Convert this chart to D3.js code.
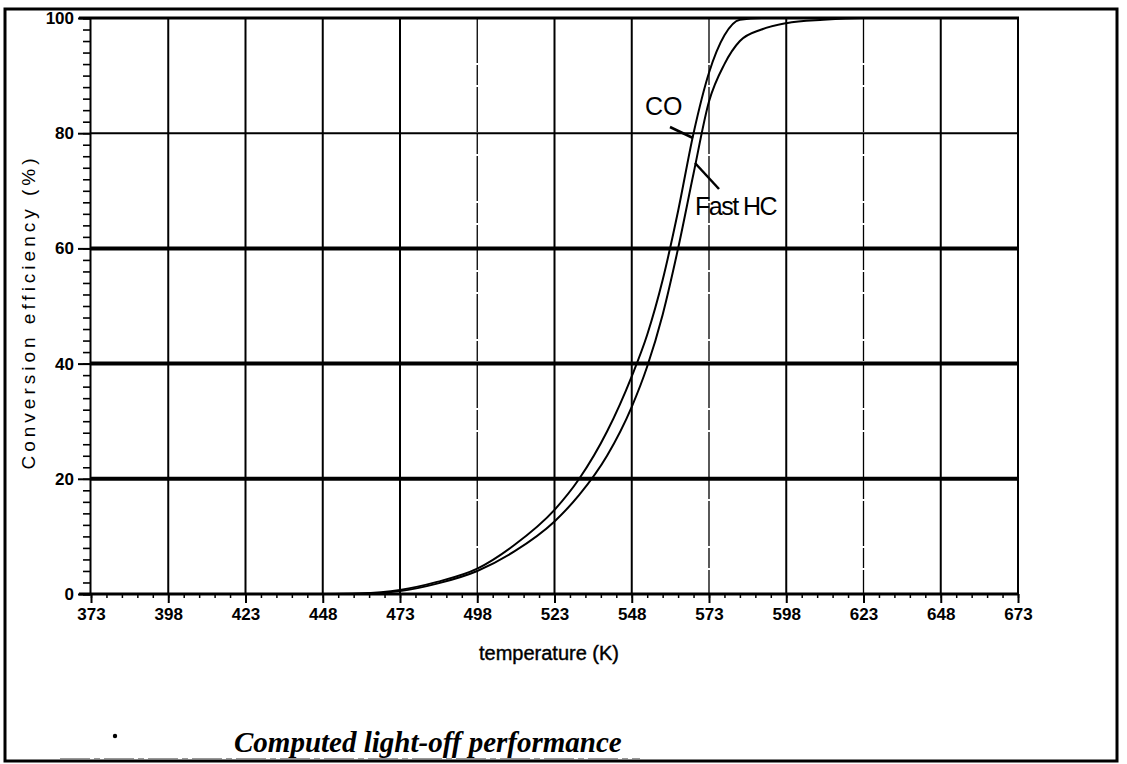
<!DOCTYPE html>
<html>
<head>
<meta charset="utf-8">
<script src="https://d3js.org/d3.v7.min.js"></script>
<style>
  body { margin: 0; background: #fff; }
  svg { display: block; }
</style>
</head>
<body>
<svg id="chart" width="1127" height="764"></svg>
<script>
// values
var temps = [448, 460, 473, 485, 498, 510, 523, 531, 540, 548, 553, 558, 563, 568, 573, 578, 583, 590, 598, 610, 623, 673];
var coVals = [0, 0.1, 0.7, 2.1, 4.4, 8.5, 14.6, 20.0, 28.2, 37.8, 45.0, 54.5, 66.5, 80.0, 90.5, 97.0, 99.7, 100, 100, 100, 100, 100];
var hcVals = [0, 0.05, 0.5, 1.8, 4.0, 7.4, 12.6, 17.2, 24.0, 32.5, 39.5, 48.5, 60.0, 73.0, 85.5, 92.0, 96.0, 98.0, 99.1, 99.7, 100, 100];

var xTicks = [373, 398, 423, 448, 473, 498, 523, 548, 573, 598, 623, 648, 673];
var yTicks = [0, 20, 40, 60, 80, 100];

var svg = d3.select('svg#chart');

// (window.top is read-only, so no plain "top" here)
var mLeft = 91,
    mRight = 1018,
    mTop = 18,
    mBottom = 594;

var x = d3.scaleLinear().domain([373, 673]).range([mLeft, mRight]);
var y = d3.scaleLinear().domain([0, 100]).range([mBottom, mTop]);

// outer frame of the scan
svg.append('rect')
    .attr('x', 5).attr('y', 9)
    .attr('width', 1112).attr('height', 752)
    .attr('fill', 'none')
    .attr('stroke', '#000')
    .attr('stroke-width', 3);

var g = svg.append('g');

// vertical grid, some look faint in the scan
var faint = [498, 573, 623];
g.selectAll('line.vgrid')
    .data(xTicks.slice(1))
    .enter().append('line')
    .attr('class', 'vgrid')
    .attr('x1', function(d) { return x(d); })
    .attr('x2', function(d) { return x(d); })
    .attr('y1', y(100))
    .attr('y2', y(0))
    .attr('stroke', '#000')
    .attr('stroke-width', function(d) { return faint.indexOf(d) >= 0 ? 1.3 : 2; })
    .attr('stroke-dasharray', function(d) { return faint.indexOf(d) >= 0 ? '45 2 20 2' : null; });

// horizontal grid, 20/40/60 are heavy
g.selectAll('line.hgrid')
    .data(yTicks.slice(1, 5))
    .enter().append('line')
    .attr('class', 'hgrid')
    .attr('x1', x(373))
    .attr('x2', x(673))
    .attr('y1', function(d) { return y(d); })
    .attr('y2', function(d) { return y(d); })
    .attr('stroke', '#000')
    .attr('stroke-width', function(d) { return d == 80 ? 2 : 4; });

// top border of plot
g.append('line')
    .attr('x1', mLeft - 12).attr('x2', mRight + 1)
    .attr('y1', y(100)).attr('y2', y(100))
    .attr('stroke', '#000').attr('stroke-width', 3);

// y axis with minor ticks every 2
var yAxis = d3.axisLeft(y)
    .tickValues(d3.range(0, 101, 2))
    .tickSize(7)
    .tickFormat('');
var ya = g.append('g')
    .attr('transform', 'translate(' + (mLeft - 1) + ',0)')
    .call(yAxis);
ya.select('.domain').attr('stroke-width', 2);
ya.selectAll('.tick line').attr('stroke-width', 1.6);

var yMaj = d3.axisLeft(y)
    .tickValues(yTicks)
    .tickSize(12)
    .tickPadding(4);
var ym = g.append('g')
    .attr('transform', 'translate(' + (mLeft - 1) + ',0)')
    .call(yMaj);
ym.select('.domain').remove();
ym.selectAll('.tick line').attr('stroke-width', 2);
ym.selectAll('text')
    .attr('font-family', 'Liberation Sans, Arial, sans-serif')
    .attr('font-weight', 'bold')
    .attr('font-size', 17)
    .attr('fill', '#000');

// x axis, minor ticks every 5 K
var xAxis = d3.axisBottom(x)
    .tickValues(d3.range(373, 674, 5))
    .tickSize(4)
    .tickSizeOuter(0)
    .tickFormat('');
var xa = g.append('g')
    .attr('transform', 'translate(0,' + mBottom + ')')
    .call(xAxis);
xa.select('.domain').remove();
xa.selectAll('.tick line').attr('stroke-width', 1.5);

var xMaj = d3.axisBottom(x)
    .tickValues(xTicks)
    .tickSize(9)
    .tickPadding(5)
    .tickFormat(d3.format('d'));
var xm = g.append('g')
    .attr('transform', 'translate(0,' + mBottom + ')')
    .call(xMaj);
xm.select('.domain').remove();
xm.selectAll('.tick line').attr('stroke-width', 2);
xm.selectAll('text')
    .attr('font-family', 'Liberation Sans, Arial, sans-serif')
    .attr('font-weight', 'bold')
    .attr('font-size', 17)
    .attr('fill', '#000');

// heavy zero line
g.append('line')
    .attr('x1', mLeft - 12).attr('x2', mRight)
    .attr('y1', y(0)).attr('y2', y(0))
    .attr('stroke', '#000').attr('stroke-width', 3);

// curves
var line = d3.line()
    .x(function(d) { return x(d[0]); })
    .y(function(d) { return y(d[1]); })
    .curve(d3.curveMonotoneX);

var series = [
    temps.map(function(t, i) { return [t, coVals[i]]; }),
    temps.map(function(t, i) { return [t, hcVals[i]]; })
];

g.selectAll('path.curve')
    .data(series)
    .enter().append('path')
    .attr('class', 'curve')
    .attr('d', line)
    .attr('fill', 'none')
    .attr('stroke', '#000')
    .attr('stroke-width', 2);

// curve labels with leaders
var lab = 'Liberation Sans, Arial, sans-serif';
g.append('text')
    .attr('x', 645).attr('y', 115)
    .attr('font-family', lab).attr('font-size', 25)
    .text('CO');
g.append('line')
    .attr('x1', 670).attr('y1', 127).attr('x2', 693).attr('y2', 138)
    .attr('stroke', '#000').attr('stroke-width', 2.5);
g.append('text')
    .attr('x', 695).attr('y', 215)
    .attr('font-family', lab).attr('font-size', 25)
    .attr('letter-spacing', -1.5)
    .text('Fast HC');
g.append('line')
    .attr('x1', 695).attr('y1', 163).attr('x2', 719).attr('y2', 189)
    .attr('stroke', '#000').attr('stroke-width', 2.5);

// axis titles
svg.append('text')
    .attr('x', 549).attr('y', 660)
    .attr('text-anchor', 'middle')
    .attr('font-family', lab).attr('font-size', 20)
    .attr('stroke', '#000').attr('stroke-width', 0.4)
    .text('temperature (K)');

svg.append('text')
    .attr('transform', 'translate(35,312) rotate(-90)')
    .attr('text-anchor', 'middle')
    .attr('font-family', lab).attr('font-size', 19)
    .attr('letter-spacing', 4)
    .text('Conversion  efficiency  (%)');

// caption
svg.append('circle')
    .attr('cx', 115).attr('cy', 736).attr('r', 2.2)
    .attr('fill', '#000');
svg.append('text')
    .attr('x', 234).attr('y', 752)
    .attr('font-family', 'Liberation Serif, Times New Roman, serif')
    .attr('font-style', 'italic').attr('font-weight', 'bold')
    .attr('font-size', 29)
    .text('Computed light-off performance');

svg.append('line')
    .attr('x1', 60).attr('x2', 640)
    .attr('y1', 759).attr('y2', 759)
    .attr('stroke', '#777').attr('stroke-width', 1.5)
    .attr('stroke-dasharray', '30 4 6 4');
</script>
</body>
</html>
